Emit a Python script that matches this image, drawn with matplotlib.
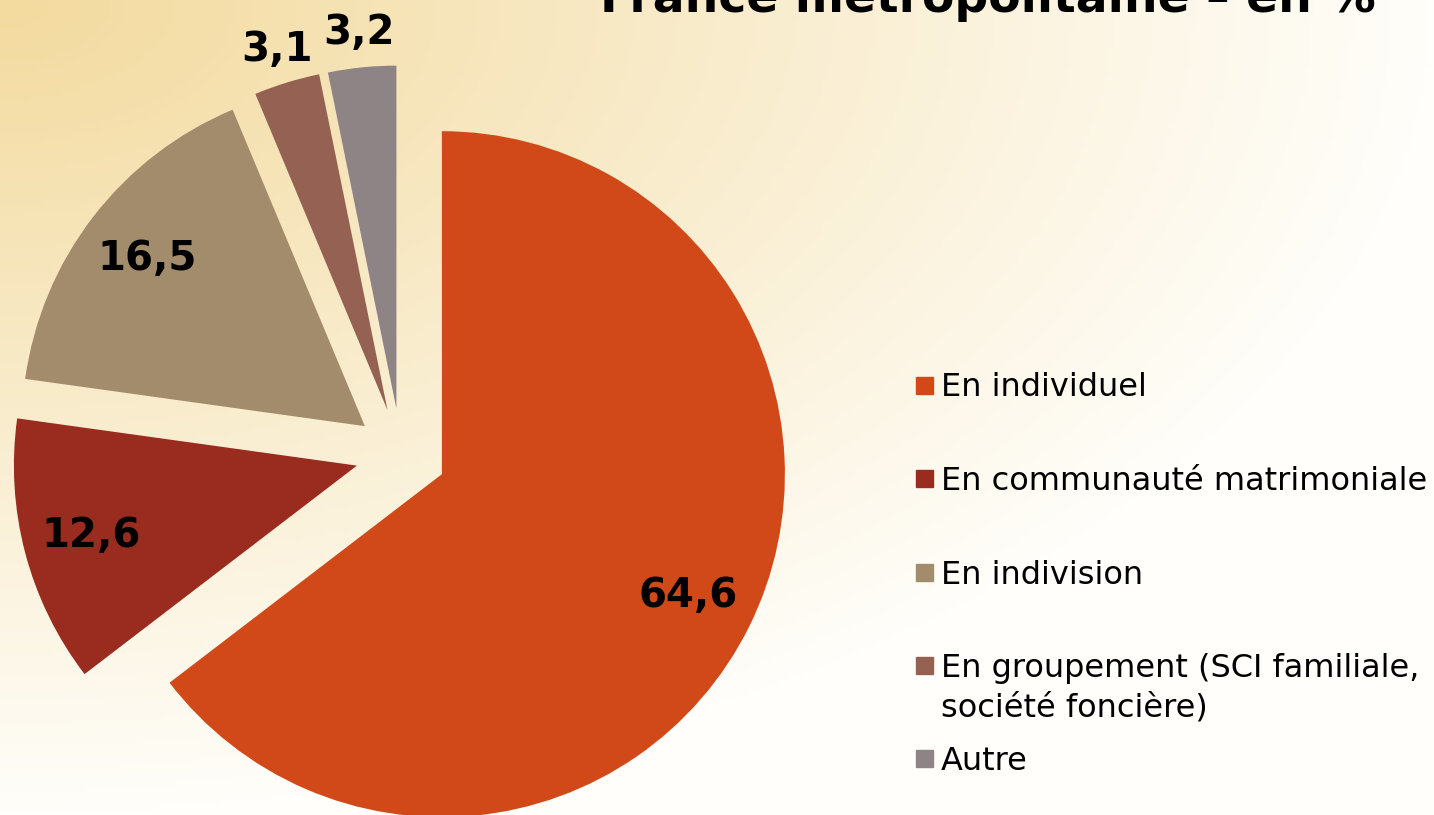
import numpy as np
import matplotlib
matplotlib.use("Agg")
import matplotlib.pyplot as plt
from matplotlib.patches import Rectangle

# données
categories = ["En individuel", "En communauté matrimoniale", "En indivision",
              "En groupement (SCI familiale,\nsociété foncière)", "Autre"]
valeurs = [64.6, 12.6, 16.5, 3.1, 3.2]
etiquettes = ["64,6", "12,6", "16,5", "3,1", "3,2"]
couleurs = ["#D14918", "#9A2B1F", "#A38C6B", "#956152", "#8E8385"]
titre = "France métropolitaine – en %"

W, H = 1434, 815
fig = plt.figure(figsize=(W / 100, H / 100), dpi=100)
ax = fig.add_axes([0, 0, 1, 1])

# fond dégradé (coin haut gauche beige -> blanc)
xx, yy = np.meshgrid(np.linspace(0, 1, 300), np.linspace(0, 1, 170))
t = np.clip(np.sqrt(xx ** 2 + yy ** 2), 0, 1)
c0 = np.array([243, 218, 158]) / 255
c1 = np.array([255, 254, 250]) / 255
fond = c0 + (c1 - c0) * t[..., None]
ax.imshow(fond, extent=(0, W, 0, H), origin="upper", aspect="auto", zorder=0)

# camembert éclaté
rayon = 343
centre = (401, H - 454)
wedges, _ = ax.pie(valeurs, colors=couleurs, startangle=90, counterclock=False,
                   radius=rayon, center=centre, explode=[45.6] * len(valeurs))
for w in wedges:
    w.set_zorder(2)

# étiquettes des valeurs
for w, lab, v in zip(wedges, etiquettes, valeurs):
    ang = np.deg2rad((w.theta1 + w.theta2) / 2)
    d = 0.8 if v > 5 else 1.1
    cx, cy = w.center
    ax.text(cx + d * w.r * np.cos(ang), cy + d * w.r * np.sin(ang), lab,
            ha="center", va="center", fontsize=29, fontweight="bold", zorder=3)

# légende
y_leg = [385, 478, 572, 665, 758]
for w, cat, y in zip(wedges, categories, y_leg):
    ax.add_patch(Rectangle((916, H - y - 8.5), 17, 17, color=w.get_facecolor(), zorder=3))
    # une ligne après l'autre pour garder la première alignée sur le carré
    for k, ligne in enumerate(cat.split("\n")):
        ax.text(941, H - y - 11.5 - 40 * k, ligne, fontsize=23, va="baseline",
                ha="left", zorder=3)

# titre (coupé en haut)
ax.text(988, H - 12, titre, ha="center", va="baseline", fontsize=34,
        fontweight="bold", zorder=3)

ax.set_xlim(0, W)
ax.set_ylim(0, H)
ax.axis("off")

plt.savefig("out.png", dpi=100)
